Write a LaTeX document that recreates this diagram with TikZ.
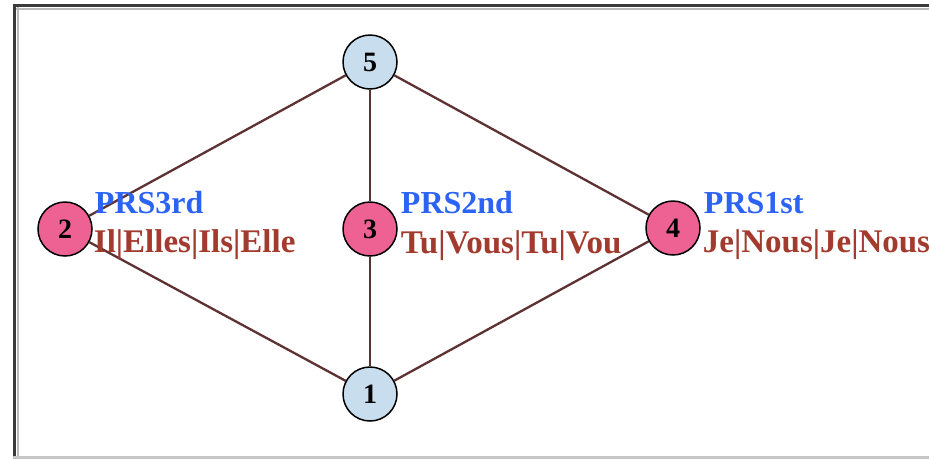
\documentclass[tikz,border=0pt]{standalone}
\usepackage{fontspec}
\setmainfont{Liberation Serif}
\usetikzlibrary{positioning,backgrounds}
\definecolor{nodepink}{HTML}{EE6293}
\definecolor{nodeblue}{HTML}{C8DDED}
\definecolor{edgebrown}{HTML}{5E3232}
\definecolor{tagblue}{HTML}{2B63F5}
\definecolor{formred}{HTML}{A33A2E}
\definecolor{rimdark}{HTML}{3A3A3A}

\begin{document}
\begin{tikzpicture}[x=1pt, y=-1pt,
  vert/.style={circle, draw, line width=1.5pt, minimum size=54pt, inner sep=0pt,
    font=\fontsize{28}{28}\selectfont\bfseries},
  tag/.style={inner sep=0pt, anchor=base west, text=tagblue,
    font=\fontsize{32}{32}\selectfont\bfseries},
  form/.style={inner sep=0pt, anchor=base west, text=formred,
    font=\fontsize{33}{33}\selectfont\bfseries},
  wire/.style={draw=edgebrown, line width=2.3pt}]
  \clip (0,0) rectangle (929,459);
  % window frame
  \draw[rimdark, line width=3pt] (13,5.5) -- (929,5.5);
  \draw[gray!55, line width=2pt] (16,8.5) -- (929,8.5);
  \draw[rimdark, line width=3pt] (14.5,4) -- (14.5,459);
  \draw[gray!55, line width=2pt] (17.5,7) -- (17.5,459);
  \draw[gray!45, line width=2.5pt] (13,457.5) -- (929,457.5);

  \node[vert, fill=nodeblue] (n5) at (370,62) {5};
  \node[vert, fill=nodepink] (n2) at (65,229) {2};
  \node[vert, fill=nodepink] (n3) at (370,229) {3};
  \node[vert, fill=nodepink] (n4) at (673,228) {4};
  \node[vert, fill=nodeblue] (n1) at (370,394) {1};

  \node[tag, xshift=2pt, yshift=16pt] (t2) at (n2.east) {PRS3rd};
  \node[form, xshift=1pt, yshift=-23pt] (f2) at (n2.east) {Il|Elles|Ils|Elle};
  \node[tag, xshift=3pt, yshift=16pt] (t3) at (n3.east) {PRS2nd};
  \node[form, xshift=3pt, yshift=-24pt] (f3) at (n3.east) {Tu|Vous|Tu|Vou};
  \node[tag, xshift=3pt, yshift=15pt] (t4) at (n4.east) {PRS1st};
  \node[form, xshift=2pt, yshift=-24pt] (f4) at (n4.east) {Je|Nous|Je|Nous};

  \begin{scope}[on background layer]
    \fill[white] (0,0) rectangle (929,459);
    \draw[wire] (n5) -- (n2); \draw[wire] (n5) -- (n3); \draw[wire] (n5) -- (n4);
    \draw[wire] (n1) -- (n2); \draw[wire] (n1) -- (n3); \draw[wire] (n1) -- (n4);
  \end{scope}
\end{tikzpicture}
\end{document}
